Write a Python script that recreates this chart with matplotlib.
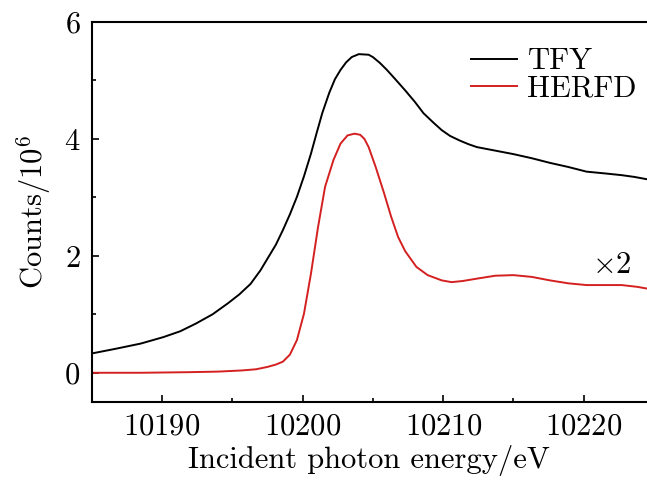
import matplotlib
matplotlib.use("Agg")
import matplotlib.pyplot as plt
from matplotlib.ticker import MultipleLocator

# TFY spectrum (counts / 1e6)
tfy_energy = [10185.0, 10186.7, 10188.5, 10190.1, 10191.3, 10192.4, 10193.6, 10194.7,
              10195.5, 10196.3, 10197.0, 10197.5, 10198.1, 10198.6, 10199.1, 10199.6,
              10200.1, 10200.6, 10201.0, 10201.4, 10201.9, 10202.3, 10202.7, 10203.1,
              10203.5, 10204.0, 10204.7, 10205.0, 10205.5, 10206.0, 10206.6, 10207.3,
              10208.0, 10208.6, 10209.3, 10209.9, 10210.5, 10211.2, 10211.8, 10212.4,
              10213.7, 10215.0, 10216.3, 10217.6, 10218.9, 10220.2, 10221.5, 10222.7,
              10223.6, 10224.5]
tfy_counts = [0.33, 0.41, 0.50, 0.61, 0.71, 0.84, 1.00, 1.19,
              1.34, 1.52, 1.75, 1.95, 2.19, 2.44, 2.71, 3.01,
              3.36, 3.75, 4.10, 4.44, 4.79, 5.02, 5.18, 5.31,
              5.40, 5.45, 5.44, 5.40, 5.30, 5.18, 5.02, 4.83,
              4.63, 4.44, 4.28, 4.15, 4.05, 3.97, 3.91, 3.86,
              3.80, 3.74, 3.67, 3.59, 3.52, 3.44, 3.41, 3.38,
              3.35, 3.31]

# HERFD spectrum, scaled x2
herfd_energy = [10185.0, 10188.5, 10191.9, 10194.0, 10195.7, 10196.7, 10197.5, 10198.1,
                10198.6, 10199.1, 10199.6, 10200.1, 10200.6, 10201.1, 10201.6, 10202.2,
                10202.7, 10203.2, 10203.7, 10204.1, 10204.4, 10204.7, 10205.2, 10205.8,
                10206.3, 10206.8, 10207.3, 10208.1, 10208.9, 10209.9, 10210.6, 10211.4,
                10212.4, 10213.7, 10215.0, 10216.3, 10217.6, 10218.9, 10220.2, 10221.4,
                10222.7, 10223.8, 10224.5]
herfd_counts = [0.00, 0.00, 0.01, 0.02, 0.04, 0.06, 0.10, 0.14,
                0.19, 0.31, 0.56, 1.01, 1.70, 2.49, 3.18, 3.64,
                3.92, 4.06, 4.09, 4.07, 4.00, 3.86, 3.52, 3.07,
                2.67, 2.32, 2.08, 1.81, 1.67, 1.58, 1.55, 1.57,
                1.61, 1.66, 1.67, 1.64, 1.58, 1.53, 1.50, 1.50,
                1.50, 1.47, 1.44]

plt.rcParams["font.family"] = "serif"
plt.rcParams["font.serif"] = ["cmr10", "DejaVu Serif"]
plt.rcParams["mathtext.fontset"] = "cm"
plt.rcParams["axes.formatter.use_mathtext"] = True

fig = plt.figure(figsize=(6.47, 4.8), dpi=100)
ax = fig.add_axes([0.1417, 0.1625, 0.8583, 0.7917])

ax.plot(tfy_energy, tfy_counts, color="black", lw=1.4, label="TFY")
ax.plot(herfd_energy, herfd_counts, color="#d42020", lw=1.4, label="HERFD")

ax.set_xlim(10185, 10224.5)
ax.set_ylim(-0.5, 6)
ax.xaxis.set_major_locator(MultipleLocator(10))
ax.xaxis.set_minor_locator(MultipleLocator(5))
ax.yaxis.set_major_locator(MultipleLocator(2))
ax.yaxis.set_minor_locator(MultipleLocator(1))
ax.tick_params(which="both", direction="in", width=1.2, labelsize=22,
               top=False, right=False)
ax.tick_params(which="major", length=5, pad=8)
ax.tick_params(which="minor", length=3)
for side in ["left", "bottom", "top"]:
    ax.spines[side].set_linewidth(1.5)
ax.spines["right"].set_visible(False)

ax.set_xlabel("Incident photon energy/eV", fontsize=22, labelpad=3)
ax.set_ylabel(r"Counts/10$^6$", fontsize=22, labelpad=8)

ax.text(10222.0, 1.83, r"$\times$2", fontsize=22, ha="center", va="center")

ax.legend(loc="upper right", fontsize=22, frameon=False, handlelength=1.5,
          handletextpad=0.35, labelspacing=0.0, borderaxespad=0.2,
          bbox_to_anchor=(1.015, 0.98))

fig.savefig("out.png", dpi=100)
